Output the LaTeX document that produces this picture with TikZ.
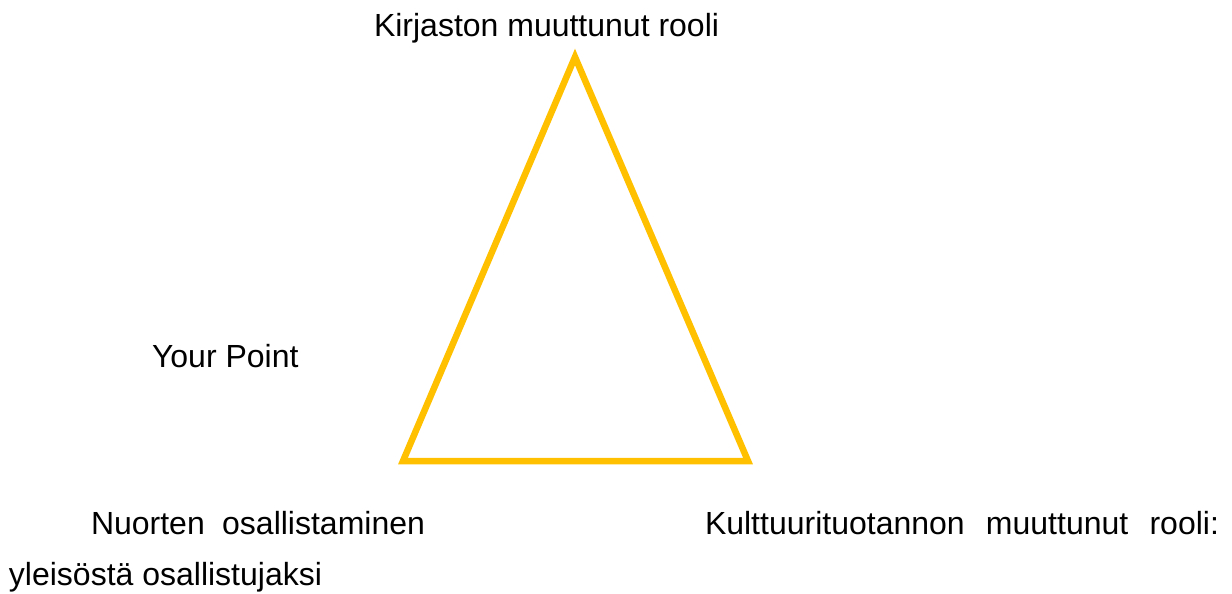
\documentclass[tikz,border=0pt]{standalone}
\usepackage{fontspec}
\setmainfont{Liberation Sans}
\usetikzlibrary{positioning}

\definecolor{tri@gold}{RGB}{255,192,0}
\definecolor{tri@ink}{RGB}{0,0,0}

\begin{document}
\begin{tikzpicture}[x=1pt, y=-1pt,
    lbl/.style={anchor=base west, inner sep=0pt, outer sep=0pt, text=tri@ink,
      font=\fontsize{32}{38}\selectfont},
    edge/.style={draw=tri@gold, line width=6.5pt, line join=miter}]

  % Bounding box in pixel units of the page
  \path[use as bounding box] (0,0) rectangle (1232,594);

  % ---- TRIANGLE ----
  \coordinate (top) at (575,57);
  \coordinate (bl) at (403,461);
  \coordinate (br) at (748,461);
  \path[edge] (top) -- (br) -- (bl) -- cycle;

  % ---- LABELS ----
  \node[lbl] (role) at (374,37) {Kirjaston muuttunut rooli};
  \node[lbl] (point) at (152,367) {Your Point};

  % Justified lines: words pushed to the ends of a fixed width
  \node[lbl, text width=334pt, align=left] (youth) at (91,534)
    {Nuorten\hfill osallistaminen};
  \node[lbl] (audience) at (9,585) {yleisöstä osallistujaksi};
  \node[lbl, text width=514pt, align=left] (culture) at (705,534)
    {Kulttuurituotannon\hfill muuttunut\hfill rooli:};
\end{tikzpicture}
\end{document}
